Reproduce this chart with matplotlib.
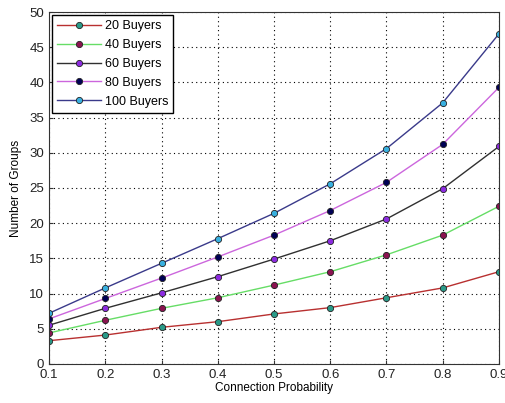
import matplotlib
matplotlib.use("Agg")
import matplotlib.pyplot as plt

plt.rcParams["font.family"] = ["Liberation Sans", "DejaVu Sans"]

# connection probability on x, average number of groups found on y
prob = [0.1, 0.2, 0.3, 0.4, 0.5, 0.6, 0.7, 0.8, 0.9]
buyers_20 = [3.3, 4.1, 5.2, 6.0, 7.1, 8.0, 9.4, 10.8, 13.1]
buyers_40 = [4.4, 6.2, 7.9, 9.4, 11.2, 13.1, 15.5, 18.3, 22.4]
buyers_60 = [5.5, 7.9, 10.1, 12.4, 14.9, 17.5, 20.6, 24.9, 30.9]
buyers_80 = [6.4, 9.3, 12.2, 15.2, 18.3, 21.8, 25.8, 31.2, 39.3]
buyers_100 = [7.2, 10.8, 14.3, 17.8, 21.4, 25.6, 30.6, 37.1, 46.9]
labels = ["20 Buyers", "40 Buyers", "60 Buyers", "80 Buyers", "100 Buyers"]

# (line colour, marker fill)
styles = [("#b83030", "#2a9a88"),
          ("#66dd66", "#8a1450"),
          ("#303030", "#8c2be0"),
          ("#cc66dd", "#000055"),
          ("#3a3a8a", "#38b0e0")]

fig = plt.figure(figsize=(5.06, 4.03), dpi=100)
ax = fig.add_axes([0.097, 0.097, 0.889, 0.873])

series = [buyers_20, buyers_40, buyers_60, buyers_80, buyers_100]
for ys, lab, (lc, mc) in zip(series, labels, styles):
    ax.plot(prob, ys, color=lc, lw=1.0, marker="o", ms=4.5,
            mfc=mc, mec="#222222", mew=0.6, label=lab)

ax.set_xlim(0.1, 0.9)
ax.set_ylim(0, 50)
ax.set_xticks(prob)
ax.set_xticklabels(["%g" % p for p in prob])
ax.set_yticks(range(0, 51, 5))
ax.tick_params(labelsize=9.5, direction="in", length=3, color="#333333",
               labelcolor="#222222")
ax.grid(True, ls=(0, (1, 3)), color="black", lw=0.8)
for s in ax.spines.values():
    s.set_color("#333333")

ax.set_xlabel("Connection Probability", fontsize=8.5, labelpad=1)
ax.set_ylabel("Number of Groups", fontsize=8.5, labelpad=5)

leg = ax.legend(loc="upper left", fontsize=9, fancybox=False,
                edgecolor="black", framealpha=1, borderaxespad=0.25,
                handlelength=3.5, labelspacing=0.55, handletextpad=0.3)
leg.get_frame().set_linewidth(1.0)

fig.savefig("out.png", dpi=100)
